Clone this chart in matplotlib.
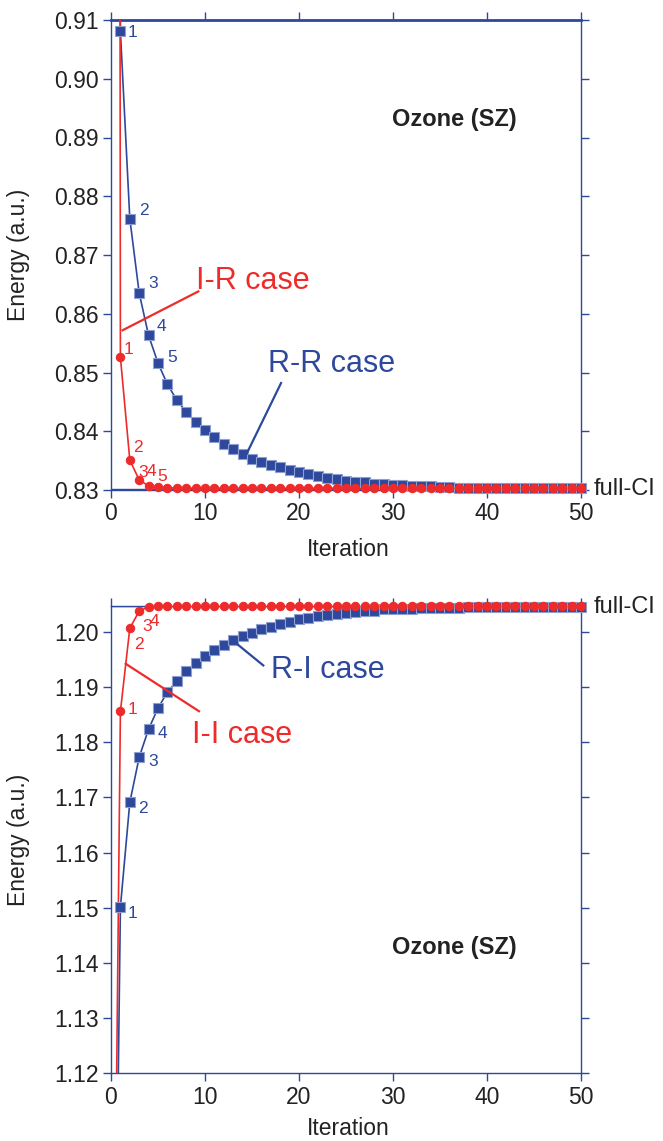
import matplotlib
matplotlib.use("Agg")
import matplotlib.pyplot as plt

plt.rcParams['font.family'] = ['Liberation Sans', 'DejaVu Sans']

BLUE = '#2D489C'
RED = '#EE2B2B'

iters = list(range(0, 51))

# Top panel (iteration 0 value lies far off-scale)
rr_case = [2.5, 0.9081, 0.8762, 0.8635, 0.8563, 0.8516, 0.8480, 0.8453, 0.8433, 0.8416,
           0.8402, 0.8390, 0.8378, 0.8369, 0.8361, 0.8353, 0.8348, 0.8343, 0.8339, 0.8334,
           0.8330, 0.8327, 0.8323, 0.8320, 0.8318, 0.8316, 0.8314, 0.8313, 0.8311, 0.8310,
           0.8309, 0.8308, 0.8307, 0.8306, 0.8306, 0.8305, 0.8305, 0.8304, 0.8304, 0.8304,
           0.8303, 0.8303, 0.8303, 0.8303, 0.8303, 0.8303, 0.8303, 0.8303, 0.8303, 0.8303,
           0.8303]
ir_case = [2.5, 0.8526, 0.8351, 0.8317, 0.8307, 0.8305, 0.8304] + [0.8303] * 44
full_ci_top = 0.8302

# Bottom panel
ri_case = [1.014, 1.1501, 1.1691, 1.1773, 1.1824, 1.1862, 1.1891, 1.1911, 1.1929, 1.1944,
           1.1957, 1.1967, 1.1976, 1.1985, 1.1992, 1.1999, 1.2005, 1.2010, 1.2015, 1.2019,
           1.2023, 1.2025, 1.2029, 1.2031, 1.2033, 1.2035, 1.2037, 1.2038, 1.2039, 1.2041,
           1.2041, 1.2042, 1.2042, 1.2043, 1.2043, 1.2044, 1.2044, 1.2044, 1.2045, 1.2045,
           1.2045, 1.2045, 1.2045, 1.2046, 1.2046, 1.2046, 1.2046, 1.2046, 1.2046, 1.2046,
           1.2046]
ii_case = [1.02, 1.1856, 1.2007, 1.2038, 1.2046] + [1.2047] * 46
full_ci_bot = 1.20473

top_yticks = [0.83, 0.84, 0.85, 0.86, 0.87, 0.88, 0.89, 0.90, 0.91]
bot_yticks = [1.12, 1.13, 1.14, 1.15, 1.16, 1.17, 1.18, 1.19, 1.20]
xticks = [0, 10, 20, 30, 40, 50]

fig = plt.figure(figsize=(6.63, 11.41), dpi=100)
ax1 = fig.add_axes([111/663, 1-490/1141, 470/663, 470/1141])
ax2 = fig.add_axes([111/663, 1-1073/1141, 470/663, 467/1141])


def style(ax, yticks, ylim, ylabels):
    ax.set_xlim(0, 50)
    ax.set_ylim(*ylim)
    ax.set_xticks(xticks)
    ax.set_yticks(yticks)
    ax.set_yticklabels(ylabels)
    for s in ax.spines.values():
        s.set_color(BLUE)
        s.set_linewidth(1.0)
    ax.tick_params(which='both', direction='out', length=6, width=1.0, color=BLUE,
                   labelsize=16.5, labelcolor='#222222', pad=3,
                   top=True, right=True, labeltop=False, labelright=False)
    ax.set_xlabel('Iteration', fontsize=16.5, color='#222222')
    ax.set_ylabel('Energy (a.u.)', fontsize=16.5, color='#222222')


style(ax1, top_yticks, (0.83, 0.91), ['%.2f' % v for v in top_yticks])
style(ax2, bot_yticks, (1.12, full_ci_bot), ['%.2f' % v for v in bot_yticks])
ax1.spines['top'].set_linewidth(2.0)
ax1.xaxis.set_label_coords(0.504, -0.102)
ax2.xaxis.set_label_coords(0.504, -0.094)
ax1.yaxis.set_label_coords(-0.172, 0.5)
ax2.yaxis.set_label_coords(-0.172, 0.5)

# full-CI lines
ax1.axhline(full_ci_top, color=BLUE, lw=1.0)
ax2.axhline(full_ci_bot, color=BLUE, lw=1.0)
ax1.text(51.3, 0.8291, 'full-CI', fontsize=17, color='#222222', ha='left', va='baseline', clip_on=False)
ax2.text(51.3, 1.2034, 'full-CI', fontsize=17, color='#222222', ha='left', va='baseline', clip_on=False)


def series(ax, y, color, marker, ms, mec):
    ax.plot(iters, y, color=color, lw=1.2, zorder=3)
    ax.plot(iters[1:], y[1:], ls='none', marker=marker, ms=ms, color=color,
            mec=mec, mew=0.8, clip_on=False, zorder=4)


series(ax1, rr_case, BLUE, 's', 7.5, '#8FA0D0')
series(ax1, ir_case, RED, 'o', 6, RED)
series(ax2, ri_case, BLUE, 's', 7.5, '#8FA0D0')
series(ax2, ii_case, RED, 'o', 6, RED)


def nums(ax, y, color, offsets):
    for i, (dx, dy, t) in enumerate(offsets, start=1):
        ax.annotate(t, (iters[i], y[i]), xytext=(dx, dy), textcoords='offset pixels',
                    fontsize=12.5, color=color, ha='center', va='center')


nums(ax1, rr_case, BLUE, [(12, -1, '1'), (14, 8, '2'), (14, 10, '3'), (13, 9, '4'), (14, 6, '5')])
nums(ax1, ir_case, RED, [(8, 8, '1'), (8, 13, '2'), (4, 8, '3'), (3, 14, '4'), (4, 11, '5')])
nums(ax2, ii_case, RED, [(12, 2, '1'), (9, -16, '2'), (8, -15, '3'), (6, -15, '4')])
nums(ax2, ri_case, BLUE, [(12, -6, '1'), (13, -6, '2'), (14, -4, '3'), (14, -4, '4')])

# Case labels and pointers
ax1.plot([1.245, 9.29], [0.8572, 0.8638], color=RED, lw=1.6, zorder=5)
ax1.text(9.04, 0.86416, 'I-R case', fontsize=22, color=RED, ha='left', va='baseline')
ax1.plot([18.09, 14.44], [0.8482, 0.8362], color=BLUE, lw=1.6, zorder=5)
ax1.text(16.73, 0.85014, 'R-R case', fontsize=22, color=BLUE, ha='left', va='baseline')
ax1.text(29.86, 0.89201, 'Ozone (SZ)', fontsize=17, fontweight='bold', color='#222222',
         ha='left', va='baseline')

ax2.plot([13.37, 16.2], [1.19789, 1.19395], color=BLUE, lw=1.6, zorder=5)
ax2.text(17.02, 1.19171, 'R-I case', fontsize=22, color=BLUE, ha='left', va='baseline')
ax2.plot([1.56, 9.36], [1.19425, 1.18564], color=RED, lw=1.6, zorder=5)
ax2.text(8.58, 1.17982, 'I-I case', fontsize=22, color=RED, ha='left', va='baseline')
ax2.text(29.86, 1.14153, 'Ozone (SZ)', fontsize=17, fontweight='bold', color='#222222',
         ha='left', va='baseline')

fig.savefig('out.png', dpi=100)
